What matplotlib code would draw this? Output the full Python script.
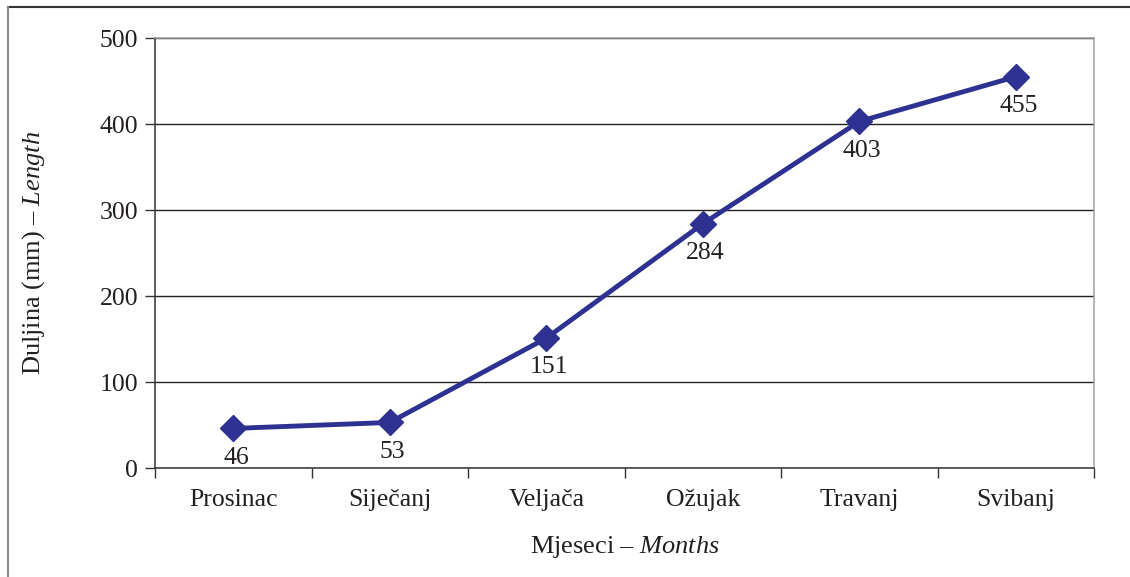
import matplotlib
matplotlib.use("Agg")
import matplotlib.pyplot as plt
from matplotlib.lines import Line2D

months = ["Prosinac", "Siječanj", "Veljača", "Ožujak", "Travanj", "Svibanj"]
lengths = [46, 53, 151, 284, 403, 455]
yticks = [0, 100, 200, 300, 400, 500]

TXT = "#231F20"
LINE = "#2E3192"

plt.rcParams['font.family'] = ['Liberation Serif', 'DejaVu Serif']
plt.rcParams['mathtext.fontset'] = 'custom'
plt.rcParams['mathtext.rm'] = 'Liberation Serif'
plt.rcParams['mathtext.it'] = 'Liberation Serif:italic'

fig = plt.figure(figsize=(11.30, 5.77), dpi=100)
ax = fig.add_axes([0.1372, 0.1889, 0.8310, 0.7452])

x = list(range(len(months)))
ax.plot(x, lengths, color=LINE, lw=3.5, marker='D', markersize=13, zorder=3)
for xi, v in zip(x, lengths):
    ax.annotate(str(v), (xi, v), xytext=(2, -21), textcoords='offset points',
                ha='center', va='center', fontsize=18.5, color=TXT)

ax.set_xlim(-0.5, len(months) - 0.5)
ax.set_ylim(0, 500)
ax.set_yticks(yticks)
ax.set_xticks(x)
ax.set_xticklabels(months)
ax.set_xticks([i - 0.5 for i in range(len(months) + 1)], minor=True)
ax.tick_params(axis='x', which='major', length=0, pad=15, labelsize=18.5, labelcolor=TXT)
ax.tick_params(axis='x', which='minor', length=7, width=1, color='#333333', direction='out')
ax.tick_params(axis='y', length=7, width=1, color='#333333', pad=5, labelsize=18.5, labelcolor=TXT)

ax.grid(axis='y', color='#222222', lw=1.0)
ax.set_axisbelow(True)
for s in ['left', 'bottom']:
    ax.spines[s].set_color('#333333')
    ax.spines[s].set_linewidth(1.1)
for s in ['top', 'right']:
    ax.spines[s].set_color('#A0A0A0')
    ax.spines[s].set_linewidth(1.1)

ax.set_xlabel(r'$\mathrm{Mjeseci\ –\ }\mathit{Months}$', fontsize=19, color=TXT, labelpad=17)
ax.set_ylabel(r'$\mathrm{Duljina\ (mm)\ –\ }\mathit{Length}$', fontsize=19, color=TXT, labelpad=38)

# outer frame (top and left only)
fig.add_artist(Line2D([8 / 1130, 1], [1 - 7 / 577, 1 - 7 / 577], color='#333333', lw=1.5))
fig.add_artist(Line2D([8 / 1130, 8 / 1130], [0, 1 - 7 / 577], color='#888888', lw=1.5))

fig.savefig("out.png", dpi=100)
